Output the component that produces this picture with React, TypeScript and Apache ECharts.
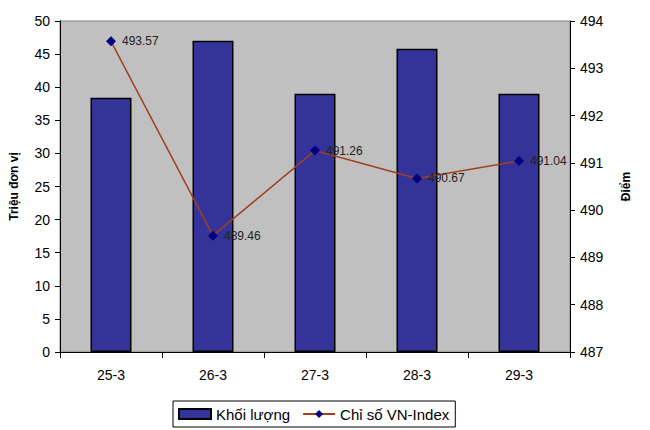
import React, { useEffect, useRef } from "react";
import * as echarts from "echarts";

const categories = ["25-3", "26-3", "27-3", "28-3", "29-3"];
const volume = [38.4, 47.0, 39.0, 45.8, 39.0];
const vnIndex = [493.57, 489.46, 491.26, 490.67, 491.04];

export default function App() {
  const ref = useRef<HTMLDivElement>(null);
  useEffect(() => {
    if (!ref.current) return;
    const chart = echarts.init(ref.current, undefined, { renderer: "svg" });
    const font = "Liberation Sans, Arial, sans-serif";
    chart.setOption({
      animation: false,
      backgroundColor: "#ffffff",
      textStyle: { fontFamily: font },
      grid: {
        left: 60,
        right: 80,
        top: 21,
        bottom: 78,
        show: true,
        backgroundColor: "#C0C0C0",
        borderColor: "#808080",
        borderWidth: 1,
      },
      legend: {
        left: 173,
        top: 401,
        itemWidth: 32,
        itemHeight: 10,
        itemGap: 12,
        padding: [5, 6, 5, 5],
        borderColor: "#000",
        borderWidth: 1,
        backgroundColor: "#fff",
        textStyle: { fontFamily: font, fontSize: 15, color: "#000", lineHeight: 16 },
        data: [{ name: "Khối lượng", icon: "rect" }, { name: "Chỉ số VN-Index" }],
      },
      xAxis: {
        type: "category",
        data: categories,
        boundaryGap: true,
        axisLine: { lineStyle: { color: "#000", width: 1 } },
        axisTick: { show: true, length: 6, lineStyle: { color: "#000" } },
        axisLabel: { fontSize: 14, color: "#000", margin: 16, fontFamily: font },
        splitLine: { show: false },
      },
      yAxis: [
        {
          type: "value",
          min: 0,
          max: 50,
          interval: 5,
          name: "Triệu đơn vị",
          nameLocation: "middle",
          nameGap: 40,
          nameRotate: 90,
          nameTextStyle: { fontSize: 12, fontWeight: "bold", color: "#000", fontFamily: font },
          axisLine: { show: true, lineStyle: { color: "#000" } },
          axisTick: { show: true, length: 5, lineStyle: { color: "#000" } },
          axisLabel: { fontSize: 14, color: "#000", margin: 10, fontFamily: font },
          splitLine: { show: false },
        },
        {
          type: "value",
          min: 487,
          max: 494,
          interval: 1,
          name: "Điểm",
          nameLocation: "middle",
          nameGap: 50,
          nameRotate: 90,
          nameTextStyle: { fontSize: 12, fontWeight: "bold", color: "#000", fontFamily: font },
          axisLine: { show: true, lineStyle: { color: "#000" } },
          axisTick: { show: true, length: 5, lineStyle: { color: "#000" } },
          axisLabel: { fontSize: 14, color: "#000", margin: 10, fontFamily: font },
          splitLine: { show: false },
        },
      ],
      series: [
        {
          name: "Khối lượng",
          type: "bar",
          data: volume,
          yAxisIndex: 0,
          barWidth: 41,
          itemStyle: { color: "#333399", borderColor: "#000", borderWidth: 1.5 },
        },
        {
          name: "Chỉ số VN-Index",
          type: "line",
          data: vnIndex,
          yAxisIndex: 1,
          symbol: "diamond",
          symbolSize: 10,
          lineStyle: { color: "#A0401F", width: 1.5 },
          itemStyle: { color: "#000080" },
          label: {
            show: true,
            position: "right",
            distance: 6,
            fontSize: 12,
            color: "#222",
            fontFamily: font,
            formatter: (p: any) => p.value.toFixed(2),
          },
        },
      ],
    });
    return () => chart.dispose();
  }, []);
  return (
    <div
      ref={ref}
      style={{ position: "absolute", left: 0, top: 0, width: 650, height: 430 }}
    />
  );
}
